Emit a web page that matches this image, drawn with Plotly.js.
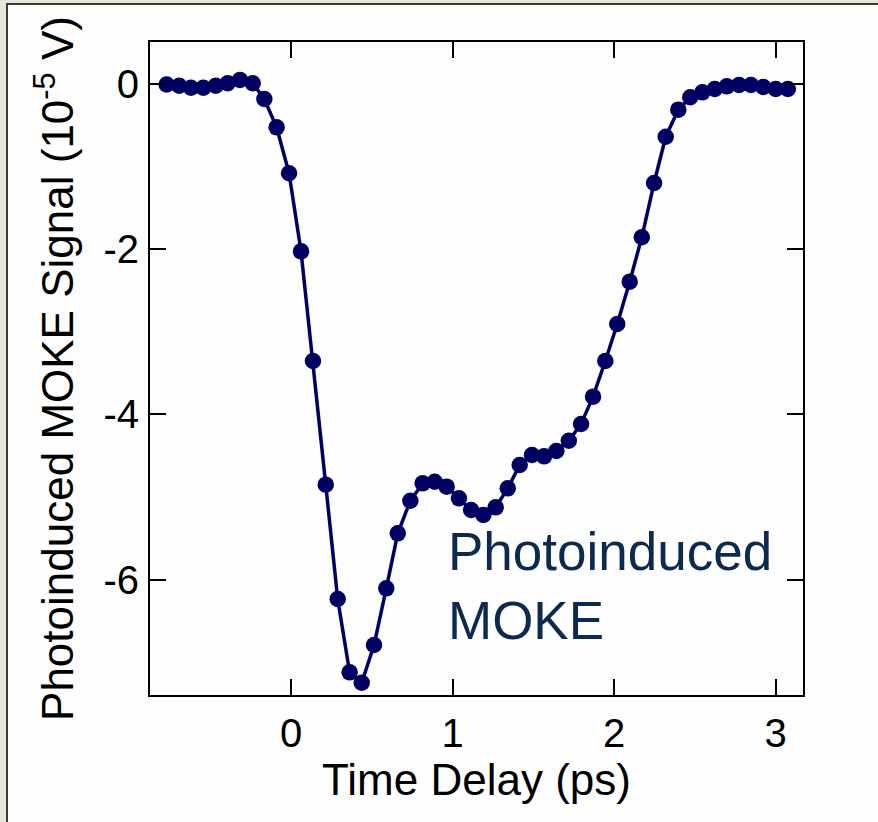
<!DOCTYPE html>
<html>
<head>
<meta charset="utf-8">
<script src="https://cdn.plot.ly/plotly-3.0.1.min.js"></script>
<style>
  html, body { margin: 0; padding: 0; width: 878px; height: 822px; overflow: hidden;
    background: #e7e5d7; }
  #panel { position: absolute; left: 6px; top: 3px; width: 872px; height: 819px;
    background: #fdfdfd; border-left: 2px solid #3a3a3a; border-top: 2px solid #3a3a3a; }
  #chart { position: absolute; left: 0; top: 0; width: 878px; height: 822px; }
</style>
</head>
<body>
<div id="panel"></div>
<div id="chart"></div>
<script>
// Time delay (ps)
const timeDelay = [
  -0.770, -0.692, -0.619, -0.543, -0.466, -0.392, -0.316, -0.237, -0.165, -0.089,
  -0.012, 0.062, 0.136, 0.215, 0.289, 0.363, 0.438, 0.514, 0.590, 0.661,
  0.739, 0.815, 0.890, 0.964, 1.040, 1.115, 1.191, 1.267, 1.342, 1.416,
  1.492, 1.567, 1.643, 1.720, 1.796, 1.870, 1.946, 2.020, 2.097, 2.172,
  2.248, 2.320, 2.398, 2.472, 2.547, 2.624, 2.698, 2.774, 2.848, 2.924,
  3.001, 3.076
];
// Photoinduced MOKE signal (10^-5 V)
const mokeSignal = [
  0.00, -0.015, -0.04, -0.04, -0.015, 0.015, 0.055, 0.015, -0.176, -0.519,
  -1.076, -2.022, -3.352, -4.851, -6.236, -7.125, -7.252, -6.794, -6.107, -5.440,
  -5.045, -4.834, -4.815, -4.875, -5.016, -5.158, -5.218, -5.125, -4.895, -4.612,
  -4.491, -4.507, -4.442, -4.318, -4.115, -3.784, -3.352, -2.903, -2.390, -1.852,
  -1.194, -0.633, -0.305, -0.155, -0.095, -0.055, -0.022, -0.006, -0.006, -0.030,
  -0.055, -0.055
];
const xTicks = [0, 1, 2, 3];
const yTicks = [0, -2, -4, -6];
const xTickText = ['0', '1', '2', '3'];
const yTickText = ['0', '-2', '-4', '-6'];

const FONT = 'Liberation Sans, Arial, Helvetica, sans-serif';

const trace = {
  x: timeDelay,
  y: mokeSignal,
  type: 'scatter',
  mode: 'lines+markers',
  line: { color: '#000063', width: 3.5 },
  marker: { color: '#000063', size: 16.5 },
  hoverinfo: 'x+y'
};

const axisCommon = {
  showline: true, linecolor: '#000', linewidth: 2, mirror: 'ticks',
  ticks: 'inside', ticklen: 16, tickwidth: 2, tickcolor: '#000',
  showgrid: false, zeroline: false,
  tickfont: { family: FONT, size: 40, color: '#000' }
};

const layout = {
  width: 878, height: 822,
  margin: { l: 150, r: 75, t: 42, b: 127, pad: 0 },
  paper_bgcolor: 'rgba(0,0,0,0)',
  plot_bgcolor: '#fdfdfd',
  showlegend: false,
  font: { family: FONT, color: '#000' },
  xaxis: Object.assign({}, axisCommon, {
    range: [-0.873, 3.170],
    tickvals: xTicks, ticktext: xTickText,
    ticklabelstandoff: 2,
    title: { text: 'Time Delay (ps)', font: { family: FONT, size: 44, color: '#000' }, standoff: 0 }
  }),
  yaxis: Object.assign({}, axisCommon, {
    range: [-7.400, 0.515],
    tickvals: yTicks, ticktext: yTickText,
    ticklabelstandoff: 1,
    title: { text: 'Photoinduced MOKE Signal (10<sup>-5</sup> V)', font: { family: FONT, size: 44, color: '#000' }, standoff: 16 }
  }),
  annotations: [{
    text: 'Photoinduced<br>MOKE',
    x: 0.96, y: -6.08, xref: 'x', yref: 'y',
    xanchor: 'left', yanchor: 'middle', align: 'left',
    showarrow: false,
    font: { family: FONT, size: 53, color: '#0c2a50' }
  }]
};

Plotly.newPlot('chart', [trace], layout, { displayModeBar: false, staticPlot: true });
</script>
</body>
</html>
